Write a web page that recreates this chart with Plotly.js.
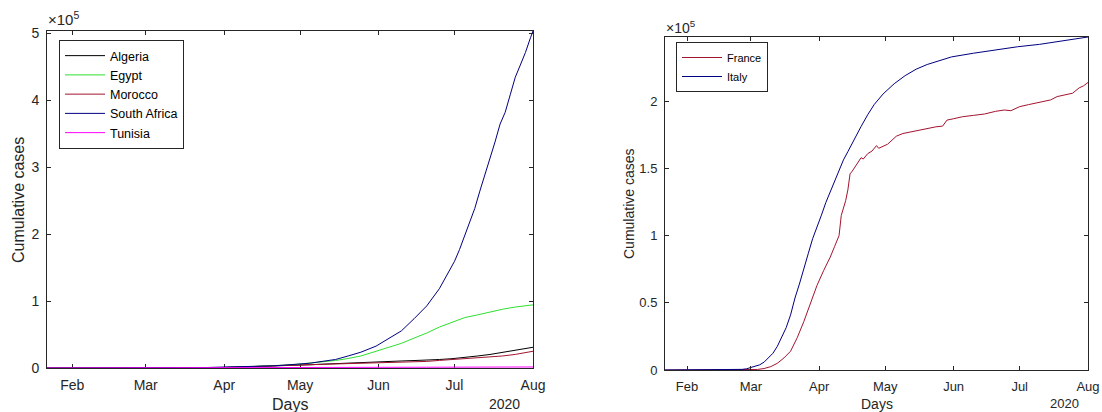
<!DOCTYPE html>
<html>
<head>
<meta charset="utf-8">
<script src="https://cdn.plot.ly/plotly-3.0.1.min.js"></script>
<style>html,body{margin:0;padding:0;background:#fff;}#chart{width:1102px;height:412px;}</style>
</head>
<body>
<div id="chart"></div>
<script>
// ---------- Data: African countries (left panel) ----------
const africaDates = ['2020-01-22','2020-03-01','2020-03-05','2020-03-10','2020-03-15','2020-03-20','2020-03-25','2020-03-31',
  '2020-04-05','2020-04-10','2020-04-15','2020-04-20','2020-04-25','2020-04-30','2020-05-05','2020-05-10','2020-05-15',
  '2020-05-20','2020-05-25','2020-05-31','2020-06-05','2020-06-10','2020-06-15','2020-06-20','2020-06-25','2020-06-30',
  '2020-07-05','2020-07-10','2020-07-15','2020-07-20','2020-07-25','2020-07-31','2020-08-01'];
const algeria = [0,0,17,20,48,90,302,716,1320,1761,2160,2718,3256,4006,4838,5723,6629,7542,8503,9394,10050,10484,11147,11631,12685,13907,15500,17879,20216,23084,26764,30394,30950];
const egypt = [0,2,3,59,110,285,456,710,1173,1699,2350,3144,4319,5537,7201,9400,11228,14229,17967,24985,31115,36829,44598,52211,61130,68311,75253,79254,83930,87775,91072,94078,94316];
const morocco = [0,0,1,3,28,63,225,638,1141,1448,1888,3046,3897,4423,5219,6063,6870,7133,7433,7807,8224,8692,9074,9839,11338,12533,14215,15328,16545,17962,20278,24322,25015];
const tunisia = [0,0,0,1,18,54,173,394,574,671,780,884,939,994,1022,1032,1035,1045,1051,1077,1087,1093,1110,1132,1157,1174,1205,1263,1319,1381,1455,1535,1535];
// South Africa has a denser date list for the steep July rise
const saDates = ['2020-01-22','2020-03-05','2020-03-15','2020-03-20','2020-03-25','2020-03-31','2020-04-05','2020-04-10','2020-04-15',
  '2020-04-20','2020-04-25','2020-04-30','2020-05-05','2020-05-10','2020-05-15','2020-05-20','2020-05-25','2020-05-31','2020-06-05',
  '2020-06-10','2020-06-15','2020-06-20','2020-06-25','2020-06-28','2020-07-01','2020-07-03','2020-07-05','2020-07-07','2020-07-09',
  '2020-07-11','2020-07-13','2020-07-15','2020-07-17','2020-07-19','2020-07-21','2020-07-23','2020-07-25','2020-07-27','2020-07-29',
  '2020-07-31','2020-08-01'];
const southAfrica = [0,1,51,202,709,1353,1655,2003,2506,3158,4361,5350,7220,10015,12739,18003,23615,32683,43434,55421,73533,92681,
  118375,138134,159333,177124,196750,215855,238339,264184,287796,311049,337594,364328,381798,408052,434200,452529,471123,493183,503290];

// ---------- Data: European countries (right panel) ----------
const italyDates = ['2020-01-22','2020-01-31','2020-02-20','2020-02-22','2020-02-24','2020-02-26','2020-02-28','2020-03-01','2020-03-03',
  '2020-03-05','2020-03-07','2020-03-09','2020-03-11','2020-03-13','2020-03-15','2020-03-17','2020-03-19','2020-03-21','2020-03-23',
  '2020-03-25','2020-03-27','2020-03-29','2020-03-31','2020-04-02','2020-04-04','2020-04-06','2020-04-08','2020-04-10','2020-04-12',
  '2020-04-14','2020-04-16','2020-04-18','2020-04-20','2020-04-23','2020-04-26','2020-04-30','2020-05-05','2020-05-10','2020-05-15',
  '2020-05-20','2020-05-25','2020-05-31','2020-06-10','2020-06-20','2020-06-30','2020-07-10','2020-07-20','2020-07-31','2020-08-01'];
const italy = [0,2,3,62,229,453,888,1694,2502,3858,5883,9172,12462,17660,24747,31506,41035,53578,63927,74386,86498,97689,105792,
  115242,124632,132547,139422,147577,156363,162488,168941,175925,181228,189973,197675,205463,213013,219070,223885,227364,230158,
  232997,235763,238159,240578,242363,244624,247537,247832];
const franceDates = ['2020-01-22','2020-02-24','2020-03-01','2020-03-04','2020-03-07','2020-03-10','2020-03-13','2020-03-16','2020-03-19',
  '2020-03-22','2020-03-25','2020-03-28','2020-03-31','2020-04-03','2020-04-06','2020-04-08','2020-04-10','2020-04-11','2020-04-12',
  '2020-04-13','2020-04-14','2020-04-15','2020-04-16','2020-04-18','2020-04-20','2020-04-21','2020-04-23','2020-04-25','2020-04-27',
  '2020-04-28','2020-04-30','2020-05-02','2020-05-04','2020-05-06','2020-05-09','2020-05-12','2020-05-16','2020-05-20','2020-05-24',
  '2020-05-27','2020-05-29','2020-06-01','2020-06-05','2020-06-10','2020-06-15','2020-06-20','2020-06-24','2020-06-27','2020-07-01',
  '2020-07-05','2020-07-10','2020-07-15','2020-07-18','2020-07-21','2020-07-25','2020-07-28','2020-07-30','2020-08-01'];
const france = [0,12,130,400,1100,2500,5000,9000,14000,24000,36000,49000,63000,74000,84000,92000,100000,115000,120000,126000,134000,
  146000,148000,153000,158000,157000,161000,163000,167000,165000,166500,168000,171000,174000,176000,177000,178500,179500,181000,
  181500,186000,187000,188500,189500,190500,192500,193500,193000,196000,197500,199000,201000,203500,204500,206000,210000,211500,214000];

// ---------- Axis labels ----------
const monthTickVals = ['2020-02-01','2020-03-01','2020-04-01','2020-05-01','2020-06-01','2020-07-01','2020-08-01'];
const monthTickText = ['Feb','Mar','Apr','May','Jun','Jul','Aug'];
const leftYTickVals = [0,100000,200000,300000,400000,500000];
const leftYTickText = ['0','1','2','3','4','5'];
const rightYTickVals = [0,50000,100000,150000,200000];
const rightYTickText = ['0','0.5','1','1.5','2'];

const AX = '#262626';
const FONT = 'Liberation Sans, Arial, Helvetica, sans-serif';
const W = 1102, H = 412;
const px = v => v / W;
const py = v => (H - v) / H;

function line(x, y, name, color, xa, ya, lg) {
  return {type:'scatter', mode:'lines', x:x, y:y, name:name, xaxis:xa, yaxis:ya, legend:lg,
          line:{color:color, width:1}, hoverinfo:'x+y+name'};
}

const traces = [
  line(africaDates, algeria, 'Algeria', '#000000', 'x', 'y', 'legend'),
  line(africaDates, egypt, 'Egypt', '#2ee02e', 'x', 'y', 'legend'),
  line(africaDates, morocco, 'Morocco', '#A2142F', 'x', 'y', 'legend'),
  line(saDates, southAfrica, 'South Africa', '#000080', 'x', 'y', 'legend'),
  line(africaDates, tunisia, 'Tunisia', '#ff00ff', 'x', 'y', 'legend'),
  line(franceDates, france, 'France', '#A2142F', 'x2', 'y2', 'legend2'),
  line(italyDates, italy, 'Italy', '#000080', 'x2', 'y2', 'legend2')
];

function xaxis(domain, anchor, size, layer) {
  return {domain:domain, anchor:anchor, type:'date', range:['2020-01-22','2020-08-01'],
    tickvals:monthTickVals, ticktext:monthTickText, ticks:'inside', ticklen:4, tickcolor:AX,
    showline:true, linecolor:AX, linewidth:1, mirror:'ticks', showgrid:false, zeroline:false,
    tickfont:{family:FONT, size:size, color:AX}, ticklabelstandoff:4, layer:layer};
}
function yaxis(domain, anchor, range, vals, text, size) {
  return {domain:domain, anchor:anchor, range:range, tickvals:vals, ticktext:text,
    ticks:'inside', ticklen:4, tickcolor:AX, showline:true, linecolor:AX, linewidth:1, mirror:'ticks',
    showgrid:false, zeroline:false, tickfont:{family:FONT, size:size, color:AX}, ticklabelstandoff:4};
}

function ann(x, y, text, size, extra) {
  return Object.assign({xref:'paper', yref:'paper', x:px(x), y:py(y), text:text, showarrow:false,
    xanchor:'center', yanchor:'middle', font:{family:FONT, size:size, color:AX}}, extra || {});
}

const layout = {
  width:W, height:H, margin:{l:0, r:0, t:0, b:0}, paper_bgcolor:'#fff', plot_bgcolor:'#fff',
  showlegend:true,
  xaxis: xaxis([px(47), px(533)], 'y', 14, 'below traces'),
  yaxis: yaxis([py(368), py(31)], 'x', [0, 503290], leftYTickVals, leftYTickText, 14),
  xaxis2: xaxis([px(665), px(1088)], 'y2', 13, 'above traces'),
  yaxis2: yaxis([py(370), py(37)], 'x2', [0, 247832], rightYTickVals, rightYTickText, 13),
  legend: {x:px(59), y:py(40), xanchor:'left', yanchor:'top', bgcolor:'#fff', bordercolor:AX, borderwidth:1,
    font:{family:FONT, size:12.5, color:'#000'}, itemwidth:40, traceorder:'normal'},
  legend2: {x:px(676), y:py(42), xanchor:'left', yanchor:'top', bgcolor:'#fff', bordercolor:AX, borderwidth:1,
    font:{family:FONT, size:11, color:'#000'}, itemwidth:40, traceorder:'normal'},
  annotations: [
    ann(290, 404, 'Days', 16),
    ann(504, 404, '2020', 14),
    ann(877, 404, 'Days', 14),
    ann(1064, 403, '2020', 13),
    ann(18, 200, 'Cumulative cases', 16, {textangle:-90}),
    ann(629, 204, 'Cumulative cases', 14, {textangle:-90}),
    ann(46, 19, '×10<sup>5</sup>', 15, {xanchor:'left'}),
    ann(664, 27, '×10<sup>5</sup>', 14, {xanchor:'left'})
  ]
};

Plotly.newPlot('chart', traces, layout, {displayModeBar:false, staticPlot:true});
</script>
</body>
</html>
